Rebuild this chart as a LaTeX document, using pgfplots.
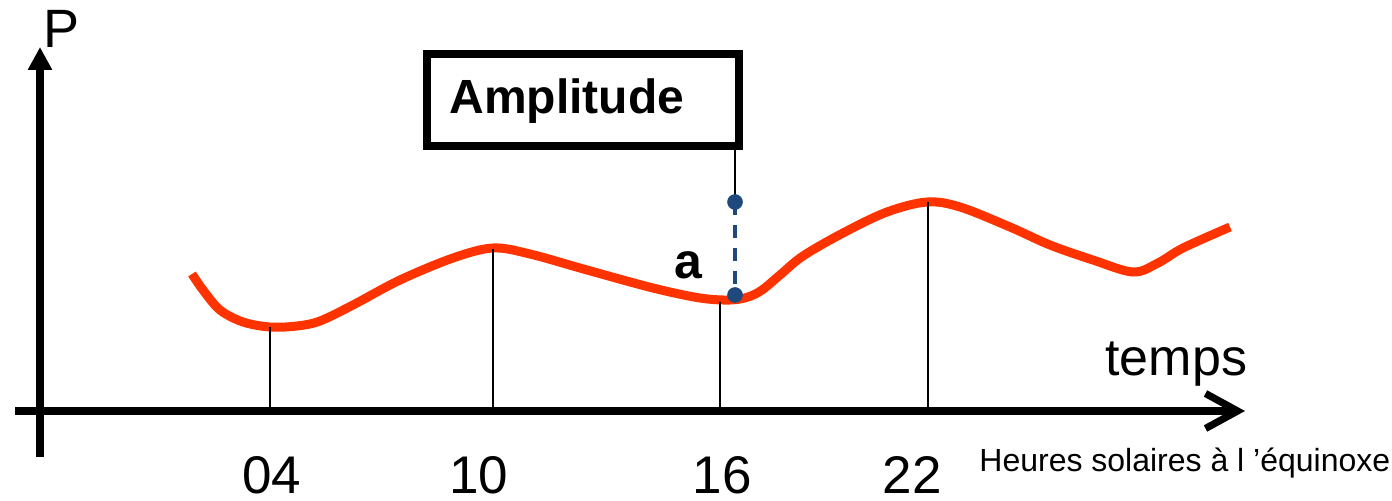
\documentclass[border=0pt]{standalone}
\usepackage{fontspec}
\setmainfont{Liberation Sans}
\usepackage{pgfplots}
\pgfplotsset{compat=1.18}
\usetikzlibrary{arrows.meta}
\definecolor{curvered}{RGB}{255,51,0}
\definecolor{dblue}{RGB}{31,73,125}
\begin{document}
\begin{tikzpicture}
\begin{axis}[name=ax, scale only axis, width=696bp, height=250.5bp,
  xmin=0, xmax=1392, ymin=0, ymax=501, y dir=reverse, hide axis, clip=false]
% axes
\addplot[black, line width=3.6bp, -{Triangle[length=11.5bp,width=11.5bp]}] coordinates {(40,457)(40,47)};
\addplot[black, line width=3.6bp, -{Straight Barb[length=16bp,width=17.5bp]}] coordinates {(15,411)(1245,411)};
% amplitude markers (below curve)
\addplot[black, line width=1.2bp] coordinates {(735,146)(735,202)};
\addplot[dblue, line width=2.4bp, dash pattern=on 6.5bp off 5bp] coordinates {(735,202)(735,295)};
\addplot[dblue, only marks, mark=*, mark size=3.7bp] coordinates {(735,202)(735,295)};
% curve
\addplot[curvered, line width=4.5bp, smooth, tension=0.55] coordinates {
(192,274)(203,290)(220,310)(243,322)(270,327)(297,326)(320,321)(353,305)
(400,280)(453,258)(493,248)(530,254)(587,270)(653,288)(700,298)(730,300)(748,297)
(762,290)(780,275)(803,256)(843,233)(887,212)(927,202)(960,207)(1010,227)(1050,245)
(1093,260)(1133,272)(1158,263)(1183,248)(1230,227)};
% verticals
\addplot[black, line width=1.2bp] coordinates {(270,327)(270,411)};
\addplot[black, line width=1.2bp] coordinates {(493,249)(493,411)};
\addplot[black, line width=1.2bp] coordinates {(720,302)(720,411)};
\addplot[black, line width=1.2bp] coordinates {(928,202)(928,411)};
% box
\draw[line width=3.7bp] (axis cs:427,54) rectangle (axis cs:739,146);
\node[anchor=base west, inner sep=0, font={\fontsize{24bp}{28bp}\selectfont\bfseries}] at (axis cs:449,114) {Amplitude};
\node[anchor=base, inner sep=0, font={\fontsize{25bp}{30bp}\selectfont\bfseries}] at (axis cs:688,278) {a};
\node[anchor=base west, inner sep=0, font={\fontsize{27bp}{32bp}\selectfont}] at (axis cs:43,48) {P};
\node[anchor=base west, inner sep=0, font={\fontsize{26bp}{31bp}\selectfont}] at (axis cs:1105,375) {temps};
\node[anchor=base, inner sep=0, font={\fontsize{26.5bp}{31bp}\selectfont}] at (axis cs:272,493) {04};
\node[anchor=base, inner sep=0, font={\fontsize{26.5bp}{31bp}\selectfont}] at (axis cs:479,493) {10};
\node[anchor=base, inner sep=0, font={\fontsize{26.5bp}{31bp}\selectfont}] at (axis cs:722,493) {16};
\node[anchor=base, inner sep=0, font={\fontsize{26.5bp}{31bp}\selectfont}] at (axis cs:912,493) {22};
\node[anchor=base west, inner sep=0, font={\fontsize{16bp}{19bp}\selectfont}] at (axis cs:979,471) {Heures solaires à l ’équinoxe};
\end{axis}
\pgfresetboundingbox
\path (ax.south west) rectangle (ax.north east);
\end{tikzpicture}
\end{document}
